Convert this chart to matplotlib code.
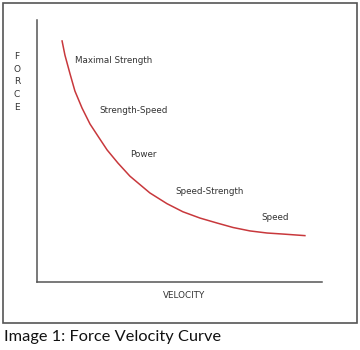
import matplotlib
matplotlib.use("Agg")
import matplotlib.pyplot as plt
from matplotlib.patches import Rectangle

# Force-velocity relationship (relative units, 0-100 on both axes)
velocity = [8.8, 9.8, 11.6, 13.3, 15.8, 18.6, 21.8, 24.6, 28.4, 32.6,
            39.6, 45.6, 51.2, 57.2, 63.2, 68.8, 74.7, 80.7, 86.3, 94.0]
force = [92.0, 86.6, 79.4, 72.9, 66.4, 60.3, 55.0, 50.4, 45.4, 40.4,
         34.0, 29.9, 26.8, 24.4, 22.5, 20.8, 19.5, 18.7, 18.3, 17.7]

# Training zones along the curve
zone_names = ["Maximal Strength", "Strength-Speed", "Power", "Speed-Strength", "Speed"]
zone_x = [13.3, 21.8, 32.6, 48.4, 78.9]
zone_y = [84.7, 65.3, 48.5, 34.7, 24.8]

caption = "Image 1: Force Velocity Curve"

W, H = 360, 350
fig = plt.figure(figsize=(W / 100, H / 100), dpi=100)

# frame around the chart
fig.patches.append(Rectangle((3 / W, 1 - 323 / H), 354 / W, 320 / H,
                             transform=fig.transFigure, fill=False,
                             edgecolor="#555555", linewidth=1.2))

ax = fig.add_axes([37 / W, 1 - 282 / H, 285 / W, 262 / H])
ax.plot(velocity, force, color="#c8383c", linewidth=1.1,
        solid_joinstyle="round", antialiased=True)
ax.set_xlim(0, 100)
ax.set_ylim(0, 100)
for side in ["top", "right"]:
    ax.spines[side].set_visible(False)
for side in ["left", "bottom"]:
    ax.spines[side].set_color("#555555")
    ax.spines[side].set_linewidth(1.1)
ax.set_xticks([])
ax.set_yticks([])
ax.patch.set_alpha(0)

for name, x, y in zip(zone_names, zone_x, zone_y):
    ax.text(x, y, name, ha="left", va="center", fontsize=6.3, color="#333333")

fig.text(184 / W, 1 - 295 / H, "VELOCITY", ha="center", va="center",
         fontsize=6.3, color="#333333")
fig.text(17 / W, 1 - 82 / H, "F\nO\nR\nC\nE", ha="center", va="center",
         fontsize=6.5, color="#333333", linespacing=1.55)

fig.text(4 / W, 1 - 337 / H, caption, ha="left", va="center",
         fontsize=11.8, family="Lato", color="#111111")

fig.savefig("out.png", dpi=100)
